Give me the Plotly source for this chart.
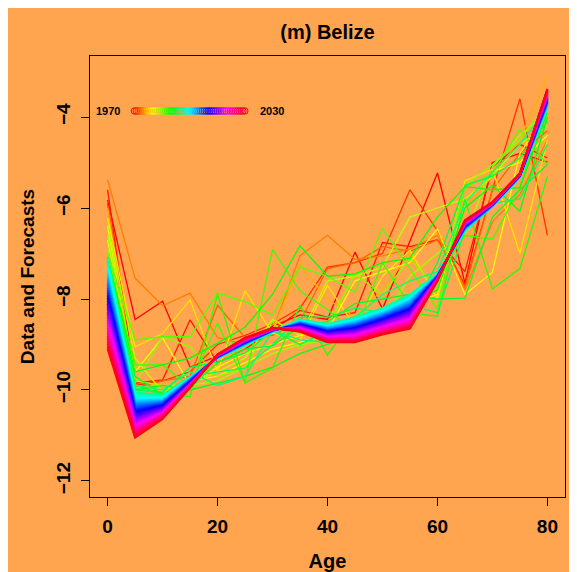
import colorsys
import plotly.graph_objects as go

ages = [0, 5, 10, 15, 20, 25, 30, 35, 40, 45, 50, 55, 60, 65, 70, 75, 80]

# observed log death rates, one row per year
data_years = [1970, 1971, 1972, 1974, 1975, 1977, 1979, 1980, 1981, 1983, 1984,
              1985, 1987, 1988, 1989, 1990, 1991, 1992, 1993, 1994, 1995]
data_rates = [
    [-5.82, -8.45, -8.05, -9.50, -9.25, -8.95, -8.60, -8.35, -8.45, -6.97, -8.22, -6.73, -5.23, -7.65, -5.00, -4.80, -4.99],
    [-5.60, -9.85, -9.78, -8.46, -9.40, -9.10, -8.70, -8.25, -8.40, -8.30, -6.76, -6.85, -6.70, -7.40, -5.10, -4.60, -4.90],
    [-5.90, -9.90, -9.80, -9.60, -9.00, -8.80, -8.55, -8.20, -7.30, -7.20, -7.00, -5.60, -6.50, -7.70, -5.60, -3.60, -6.60],
    [-5.95, -9.95, -9.80, -9.70, -8.14, -8.85, -8.80, -8.50, -7.33, -7.20, -6.85, -6.95, -6.70, -7.75, -5.60, -4.80, -4.30],
    [-5.38, -7.54, -8.15, -7.87, -8.85, -9.00, -8.70, -7.05, -6.60, -7.13, -7.05, -6.90, -6.60, -7.80, -6.30, -5.70, -4.50],
    [-6.00, -9.90, -10.00, -9.75, -9.45, -9.00, -8.70, -7.25, -8.00, -8.40, -7.80, -7.00, -7.90, -6.00, -5.30, -4.50, -3.10],
    [-6.22, -9.05, -8.76, -8.02, -9.60, -7.82, -8.75, -8.90, -7.70, -8.60, -7.50, -6.93, -8.00, -5.40, -5.15, -7.00, -4.50],
    [-6.70, -9.60, -8.85, -9.90, -9.50, -9.20, -9.00, -8.80, -8.70, -7.60, -7.40, -7.20, -6.46, -7.90, -7.41, -4.80, -3.90],
    [-6.40, -9.95, -10.00, -9.80, -9.70, -9.40, -9.10, -8.95, -8.80, -8.50, -8.30, -8.10, -7.90, -5.90, -5.20, -5.00, -4.40],
    [-6.37, -9.30, -10.05, -9.85, -9.60, -9.30, -8.45, -8.80, -7.60, -7.50, -7.30, -6.20, -6.00, -5.80, -5.30, -4.60, -4.20],
    [-6.60, -9.80, -9.90, -9.90, -9.80, -9.50, -9.20, -9.00, -8.90, -8.60, -8.50, -7.50, -7.00, -6.60, -5.10, -4.40, -3.90],
    [-6.90, -9.85, -8.83, -9.05, -9.70, -9.50, -8.50, -9.10, -8.60, -7.45, -7.90, -7.10, -7.80, -5.50, -5.05, -4.50, -3.70],
    [-7.00, -8.90, -8.83, -8.83, -7.87, -8.06, -8.35, -7.30, -7.50, -7.85, -6.45, -7.33, -8.22, -5.53, -5.25, -4.26, -5.05],
    [-7.10, -9.45, -9.45, -9.93, -8.53, -9.84, -6.91, -7.82, -8.23, -8.75, -7.20, -8.14, -7.50, -6.60, -6.69, -5.55, -3.60],
    [-7.20, -9.90, -10.07, -10.15, -7.90, -9.84, -9.52, -8.14, -9.23, -8.40, -8.80, -8.30, -8.38, -5.80, -7.78, -7.33, -5.31],
    [-7.08, -9.60, -9.45, -9.30, -8.97, -8.62, -7.90, -6.83, -7.50, -7.45, -7.20, -7.10, -6.20, -5.53, -5.60, -5.55, -3.90],
    [-7.47, -10.00, -9.90, -10.00, -9.85, -9.70, -9.50, -9.20, -9.00, -8.80, -8.50, -8.10, -7.80, -6.00, -5.50, -6.07, -4.00],
    [-7.30, -9.70, -10.10, -9.95, -9.40, -9.10, -9.03, -8.60, -8.50, -8.10, -8.00, -7.90, -8.00, -7.98, -6.20, -5.60, -5.05],
    [-7.20, -10.00, -10.05, -9.50, -9.39, -9.19, -8.70, -9.00, -8.70, -8.70, -8.60, -8.40, -7.20, -5.50, -5.30, -4.90, -4.10],
    [-7.50, -9.95, -10.10, -9.70, -9.60, -9.52, -9.00, -8.40, -8.40, -8.20, -8.30, -8.14, -8.30, -6.50, -5.90, -5.80, -4.60],
    [-7.35, -9.90, -10.00, -9.60, -9.90, -9.70, -8.70, -8.90, -8.95, -8.40, -7.90, -7.60, -7.40, -5.90, -5.20, -4.60, -3.80],
]

# forecasts 1996-2030, one column per age group
fc_years = list(range(1996, 2031))
fc_by_age = [
    [-7.10, -7.16, -7.22, -7.28, -7.34, -7.39, -7.45, -7.51, -7.57, -7.63, -7.69, -7.75, -7.81, -7.86, -7.92, -7.98, -8.04, -8.10,
     -8.16, -8.22, -8.28, -8.33, -8.39, -8.45, -8.51, -8.57, -8.63, -8.69, -8.75, -8.81, -8.86, -8.92, -8.98, -9.04, -9.10],
    [-10.05, -10.08, -10.11, -10.14, -10.17, -10.20, -10.23, -10.26, -10.29, -10.31, -10.34, -10.37, -10.40, -10.43, -10.46, -10.49, -10.52, -10.55,
     -10.58, -10.61, -10.64, -10.67, -10.70, -10.73, -10.76, -10.79, -10.81, -10.84, -10.87, -10.90, -10.93, -10.96, -10.99, -11.02, -11.05],
    [-10.12, -10.14, -10.15, -10.17, -10.18, -10.20, -10.21, -10.23, -10.24, -10.26, -10.27, -10.29, -10.30, -10.32, -10.33, -10.35, -10.36, -10.38,
     -10.40, -10.41, -10.43, -10.44, -10.46, -10.47, -10.49, -10.50, -10.52, -10.53, -10.55, -10.56, -10.58, -10.59, -10.61, -10.62, -10.64],
    [-9.72, -9.73, -9.73, -9.74, -9.75, -9.75, -9.76, -9.77, -9.77, -9.78, -9.79, -9.79, -9.80, -9.81, -9.82, -9.82, -9.83, -9.84,
     -9.84, -9.85, -9.86, -9.86, -9.87, -9.88, -9.88, -9.89, -9.90, -9.90, -9.91, -9.92, -9.92, -9.93, -9.94, -9.94, -9.95],
    [-9.30, -9.30, -9.30, -9.29, -9.29, -9.29, -9.29, -9.28, -9.28, -9.28, -9.28, -9.27, -9.27, -9.27, -9.27, -9.26, -9.26, -9.26,
     -9.26, -9.26, -9.25, -9.25, -9.25, -9.25, -9.24, -9.24, -9.24, -9.24, -9.23, -9.23, -9.23, -9.23, -9.22, -9.22, -9.22],
    [-9.02, -9.02, -9.01, -9.01, -9.00, -9.00, -8.99, -8.99, -8.98, -8.98, -8.97, -8.97, -8.96, -8.96, -8.95, -8.95, -8.94, -8.94,
     -8.93, -8.93, -8.92, -8.92, -8.91, -8.91, -8.90, -8.90, -8.89, -8.89, -8.88, -8.88, -8.87, -8.87, -8.86, -8.86, -8.85],
    [-8.72, -8.72, -8.72, -8.71, -8.71, -8.71, -8.71, -8.70, -8.70, -8.70, -8.70, -8.69, -8.69, -8.69, -8.69, -8.68, -8.68, -8.68,
     -8.68, -8.68, -8.67, -8.67, -8.67, -8.67, -8.66, -8.66, -8.66, -8.66, -8.65, -8.65, -8.65, -8.65, -8.64, -8.64, -8.64],
    [-8.45, -8.46, -8.47, -8.47, -8.48, -8.49, -8.50, -8.51, -8.51, -8.52, -8.53, -8.54, -8.55, -8.55, -8.56, -8.57, -8.58, -8.58,
     -8.59, -8.60, -8.61, -8.62, -8.62, -8.63, -8.64, -8.65, -8.66, -8.66, -8.67, -8.68, -8.69, -8.70, -8.70, -8.71, -8.72],
    [-8.55, -8.56, -8.57, -8.59, -8.60, -8.61, -8.62, -8.63, -8.64, -8.66, -8.67, -8.68, -8.69, -8.70, -8.71, -8.73, -8.74, -8.75,
     -8.76, -8.77, -8.79, -8.80, -8.81, -8.82, -8.83, -8.84, -8.86, -8.87, -8.88, -8.89, -8.90, -8.91, -8.93, -8.94, -8.95],
    [-8.40, -8.42, -8.43, -8.45, -8.46, -8.48, -8.50, -8.51, -8.53, -8.55, -8.56, -8.58, -8.59, -8.61, -8.63, -8.64, -8.66, -8.68,
     -8.69, -8.71, -8.72, -8.74, -8.76, -8.77, -8.79, -8.80, -8.82, -8.84, -8.85, -8.87, -8.89, -8.90, -8.92, -8.93, -8.95],
    [-8.20, -8.22, -8.23, -8.25, -8.27, -8.29, -8.30, -8.32, -8.34, -8.35, -8.37, -8.39, -8.40, -8.42, -8.44, -8.46, -8.47, -8.49,
     -8.51, -8.52, -8.54, -8.56, -8.58, -8.59, -8.61, -8.63, -8.64, -8.66, -8.68, -8.69, -8.71, -8.73, -8.75, -8.76, -8.78],
    [-7.90, -7.92, -7.94, -7.97, -7.99, -8.01, -8.03, -8.05, -8.08, -8.10, -8.12, -8.14, -8.17, -8.19, -8.21, -8.23, -8.25, -8.28,
     -8.30, -8.32, -8.34, -8.36, -8.39, -8.41, -8.43, -8.45, -8.47, -8.50, -8.52, -8.54, -8.56, -8.59, -8.61, -8.63, -8.65],
    [-7.45, -7.45, -7.46, -7.46, -7.47, -7.47, -7.48, -7.48, -7.49, -7.49, -7.49, -7.50, -7.50, -7.51, -7.51, -7.52, -7.52, -7.53,
     -7.53, -7.53, -7.54, -7.54, -7.55, -7.55, -7.56, -7.56, -7.56, -7.57, -7.57, -7.58, -7.58, -7.59, -7.59, -7.60, -7.60],
    [-6.50, -6.49, -6.49, -6.48, -6.47, -6.47, -6.46, -6.45, -6.45, -6.44, -6.43, -6.43, -6.42, -6.41, -6.40, -6.40, -6.39, -6.38,
     -6.38, -6.37, -6.36, -6.36, -6.35, -6.34, -6.34, -6.33, -6.32, -6.32, -6.31, -6.30, -6.30, -6.29, -6.28, -6.28, -6.27],
    [-5.97, -5.97, -5.96, -5.96, -5.96, -5.96, -5.95, -5.95, -5.95, -5.94, -5.94, -5.94, -5.93, -5.93, -5.93, -5.93, -5.92, -5.92,
     -5.92, -5.91, -5.91, -5.91, -5.91, -5.90, -5.90, -5.90, -5.89, -5.89, -5.89, -5.89, -5.88, -5.88, -5.88, -5.87, -5.87],
    [-5.32, -5.32, -5.32, -5.31, -5.31, -5.31, -5.31, -5.30, -5.30, -5.30, -5.30, -5.29, -5.29, -5.29, -5.29, -5.28, -5.28, -5.28,
     -5.28, -5.27, -5.27, -5.27, -5.27, -5.26, -5.26, -5.26, -5.26, -5.26, -5.25, -5.25, -5.25, -5.25, -5.24, -5.24, -5.24],
    [-3.80, -3.79, -3.78, -3.76, -3.75, -3.74, -3.73, -3.71, -3.70, -3.69, -3.68, -3.66, -3.65, -3.64, -3.63, -3.61, -3.60, -3.59,
     -3.58, -3.56, -3.55, -3.54, -3.53, -3.51, -3.50, -3.49, -3.48, -3.46, -3.45, -3.44, -3.43, -3.41, -3.40, -3.39, -3.38],
]

legend_years = list(range(1970, 2031))


def year_colour(yr):
    # same as R rainbow(61) over 1970..2030
    h = (yr - 1970) / 61.0
    r, g, b = colorsys.hsv_to_rgb(h, 1, 1)
    return 'rgb(%d,%d,%d)' % (round(r * 255), round(g * 255), round(b * 255))


fig = go.Figure()

for yr, rates in zip(data_years, data_rates):
    fig.add_trace(go.Scatter(x=ages, y=rates, mode='lines',
                             line=dict(color=year_colour(yr), width=1.3),
                             showlegend=False, hoverinfo='skip'))

fc_rows = list(zip(*fc_by_age))
for yr, rates in zip(fc_years, fc_rows):
    fig.add_trace(go.Scatter(x=ages, y=list(rates), mode='lines',
                             line=dict(color=year_colour(yr), width=2),
                             showlegend=False, hoverinfo='skip'))

# colour key: open circles, one per year
fig.add_trace(go.Scatter(x=legend_years, y=[0] * len(legend_years), mode='markers',
                         marker=dict(symbol='circle-open', size=6.5,
                                     color=[year_colour(y) for y in legend_years],
                                     line=dict(width=1)),
                         xaxis='x2', yaxis='y2', showlegend=False, hoverinfo='skip'))

# the page body adds 8px white at left/top, so the figure is 8px smaller
bold = 'Liberation Sans, Arial, sans-serif'
fig.update_layout(
    width=569, height=564,
    margin=dict(l=82, r=12, t=48, b=75, autoexpand=False),
    paper_bgcolor='#FFA54F', plot_bgcolor='#FFA54F',
    font=dict(family=bold, color='black'),
    title=dict(text='<b>(m) Belize</b>', x=0.5, xref='paper', y=1 - 24 / 564,
               yref='container', yanchor='middle', font=dict(size=20)),
    xaxis=dict(range=[-3.2, 83.2], tickvals=[0, 20, 40, 60, 80], automargin=False,
               ticktext=['<b>0</b>', '<b>20</b>', '<b>40</b>', '<b>60</b>', '<b>80</b>'],
               ticks='outside', ticklen=8, tickcolor='black', showgrid=False, zeroline=False,
               showline=True, mirror=True, linecolor='black', linewidth=1,
               ticklabelstandoff=4,
               tickfont=dict(size=19), title=dict(text='<b>Age</b>', font=dict(size=20), standoff=20)),
    yaxis=dict(range=[-12.352, -2.659], tickvals=[-12, -10, -8, -6, -4], automargin=False,
               ticktext=['<b>\u221212</b>', '<b>\u221210</b>', '<b>\u22128</b>', '<b>\u22126</b>', '<b>\u22124</b>'],
               tickangle=-90, ticklabelstandoff=3,
               ticks='outside', ticklen=8, tickcolor='black', showgrid=False, zeroline=False,
               showline=True, mirror=True, linecolor='black', linewidth=1,
               tickfont=dict(size=19), title=dict(text='<b>Data and Forecasts</b>', font=dict(size=19), standoff=13)),
    xaxis2=dict(overlaying='x', anchor='y2', range=[1945.79, 2204.2], visible=False),
    yaxis2=dict(overlaying='y', anchor='x2', range=[-0.8753, 0.1247], visible=False),
    annotations=[
        dict(text='<b>1970</b>', x=1970, y=0, xref='x2', yref='y2', xshift=-27,
             showarrow=False, font=dict(size=11)),
        dict(text='<b>2030</b>', x=2030, y=0, xref='x2', yref='y2', xshift=27,
             showarrow=False, font=dict(size=11)),
    ],
)

fig.write_html('out.html')
